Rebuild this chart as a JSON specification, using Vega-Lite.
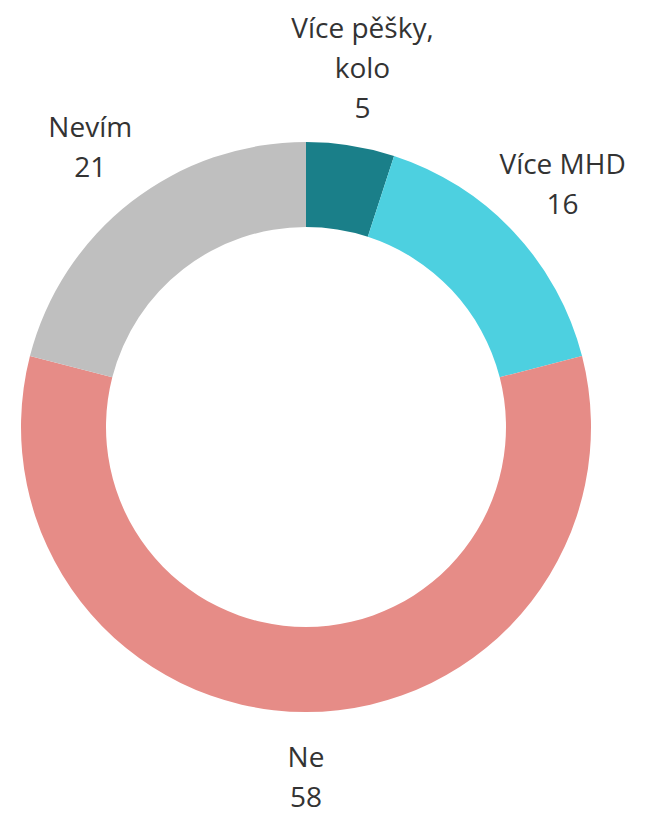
{
  "$schema": "https://vega.github.io/schema/vega-lite/v6.json",
  "width": 612,
  "height": 778,
  "autosize": {"type": "none"},
  "padding": {"left": 0, "top": 38, "right": 42, "bottom": 0},
  "background": "white",
  "config": {"view": {"stroke": null}},
  "data": {
    "values": [
      {"category": "Více pěšky,\nkolo", "value": 5, "order": 1},
      {"category": "Více MHD", "value": 16, "order": 2},
      {"category": "Ne", "value": 58, "order": 3},
      {"category": "Nevím", "value": 21, "order": 4}
    ]
  },
  "transform": [
    {"calculate": "datum.category + '\\n' + datum.value", "as": "label"}
  ],
  "encoding": {
    "theta": {"field": "value", "type": "quantitative", "stack": true},
    "order": {"field": "order", "type": "quantitative"}
  },
  "layer": [
    {
      "mark": {"type": "arc", "outerRadius": 285, "innerRadius": 200},
      "encoding": {
        "color": {
          "field": "category",
          "type": "nominal",
          "scale": {
            "domain": ["Více pěšky,\nkolo", "Více MHD", "Ne", "Nevím"],
            "range": ["#1a7f89", "#4dd0e0", "#e68c87", "#bfbfbf"]
          },
          "legend": null
        }
      }
    },
    {
      "mark": {
        "type": "text",
        "radius": 361,
        "dy": -40,
        "lineBreak": "\n",
        "lineHeight": 40,
        "fontSize": 28,
        "font": "Open Sans",
        "color": "#333333",
        "align": "center",
        "baseline": "middle"
      },
      "encoding": {
        "text": {"condition": {"test": "datum.order == 1", "field": "label"}, "value": ""}
      }
    },
    {
      "mark": {
        "type": "text",
        "radius": 352,
        "dy": -20,
        "lineBreak": "\n",
        "lineHeight": 40,
        "fontSize": 28,
        "font": "Open Sans",
        "color": "#333333",
        "align": "center",
        "baseline": "middle"
      },
      "encoding": {
        "text": {"condition": {"test": "datum.order != 1", "field": "label"}, "value": ""}
      }
    }
  ]
}
